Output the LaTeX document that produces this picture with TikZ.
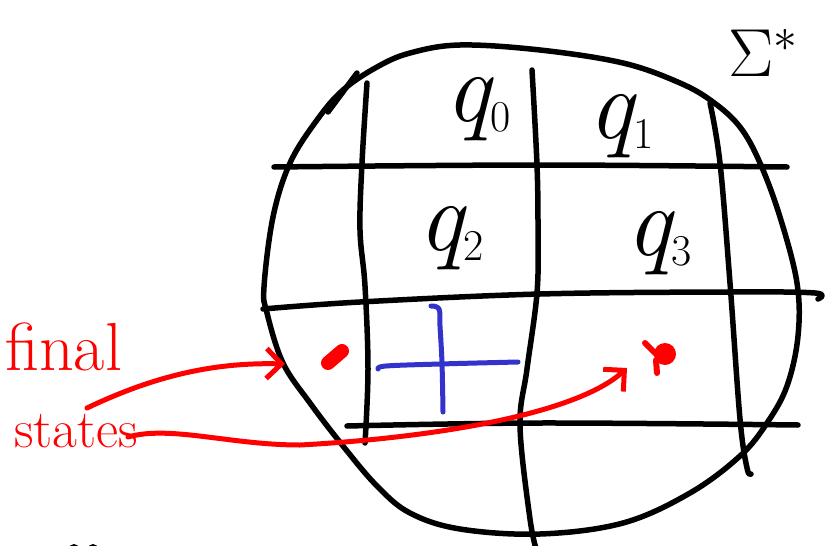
\RequirePackage{fix-cm}
\documentclass[tikz,border=0pt]{standalone}
\usetikzlibrary{arrows.meta}
\definecolor{penblue}{RGB}{51,51,204}
\newcommand{\qlab}[1]{{\fontsize{100}{100}\selectfont\itshape q}\raisebox{-10pt}{\fontsize{44}{44}\selectfont #1}}
\tikzset{
  ink/.style={line width=5.5pt, line cap=round, line join=round, black},
  redink/.style={line width=5pt, line cap=round, line join=round, red},
  blueink/.style={line width=5pt, line cap=round, line join=round, penblue},
  barb/.style={-{Straight Barb[length=15pt,width=30pt,line width=5pt]}},
  lab/.style={inner sep=0pt, anchor=base west},
  redlab/.style={inner sep=0pt, text=red}
}
\begin{document}
\begin{tikzpicture}[x=1pt,y=-1pt]
\useasboundingbox (0,0) rectangle (825,546);
\clip (0,0) rectangle (825,546);
% outline of the set
\draw[ink] plot[smooth cycle, tension=0.6] coordinates {
 (460,45) (540,50) (623,63) (680,83) (713,102) (740,127) (760,163) (780,217)
 (797,283) (798,336) (787,386) (767,423) (740,456) (690,493) (623,523) (540,534)
 (460,529) (410,513) (377,486) (343,446) (310,403) (283,363) (267,313) (264,287)
 (273,217) (290,163) (317,120) (343,90) (377,67) (410,53)};
\draw[ink] (357,73) -- (328,112);
% vertical lines
\draw[ink] plot[smooth, tension=0.6] coordinates {(367,83) (362,163) (360,230) (365,286) (368,369) (365,443)};
\draw[ink] plot[smooth, tension=0.6] coordinates {(532,70) (537,165) (538,230) (537,293) (527,369) (520,426) (530,519) (537,552)};
\draw[ink] plot[smooth, tension=0.6] coordinates {(710,103) (720,163) (730,283) (740,419) (747,468) (751,474)};
% horizontal lines
\draw[ink] plot[smooth, tension=0.6] coordinates {(274,167) (540,165) (787,167)};
\draw[ink] plot[smooth, tension=0.6] coordinates {(263,309) (360,302) (540,294) (730,292) (815,293) (818,299)};
\draw[ink] plot[smooth, tension=0.6] coordinates {(347,426) (540,423) (798,425)};
% labels
\node[lab] (q0) at (445,121) {\qlab{0}};
\node[lab] (q1) at (588,138) {\qlab{1}};
\node[lab] (q2) at (418,250) {\qlab{2}};
\node[lab] (q3) at (626,255) {\qlab{3}};
\node[lab] (sigma) at (728,76) {\fontsize{68}{68}\selectfont$\Sigma^*$};
% blue cross
\draw[blueink] plot[smooth, tension=0.6] coordinates {(431,306) (439,309) (440,326) (442,363) (443,412)};
\draw[blueink] plot[smooth, tension=0.6] coordinates {(378,369) (386,366) (440,364) (518,362)};
% red final states
\draw[redink, line width=14pt] (328,363) -- (342,351);
\fill[red] (665,354) circle (11);
\draw[redink, line width=6pt] (645,343) -- (660,358);
\draw[redink, line width=6pt] (656,360) -- (657,373);
\node[redlab, anchor=base west] (final) at (5,370) {\fontsize{68}{68}\selectfont final};
\node[redlab, anchor=base east] (states) at (138,447) {\fontsize{54}{54}\selectfont states};
\coordinate (u0) at (87,408);
\coordinate (u1) at (285,364);
\coordinate (l0) at (128,437);
\coordinate (l1) at (627,368);
\draw[redink, barb] (u0) .. controls (150,378) and (210,362) .. (u1);
\draw[redink, barb] (l0) .. controls (170,425) and (230,445) .. (300,445)
   .. controls (430,438) and (575,415) .. (l1);
% marks cut at the bottom edge
\fill (74,549) circle (5);
\fill (93,549) circle (5);
\end{tikzpicture}
\end{document}
